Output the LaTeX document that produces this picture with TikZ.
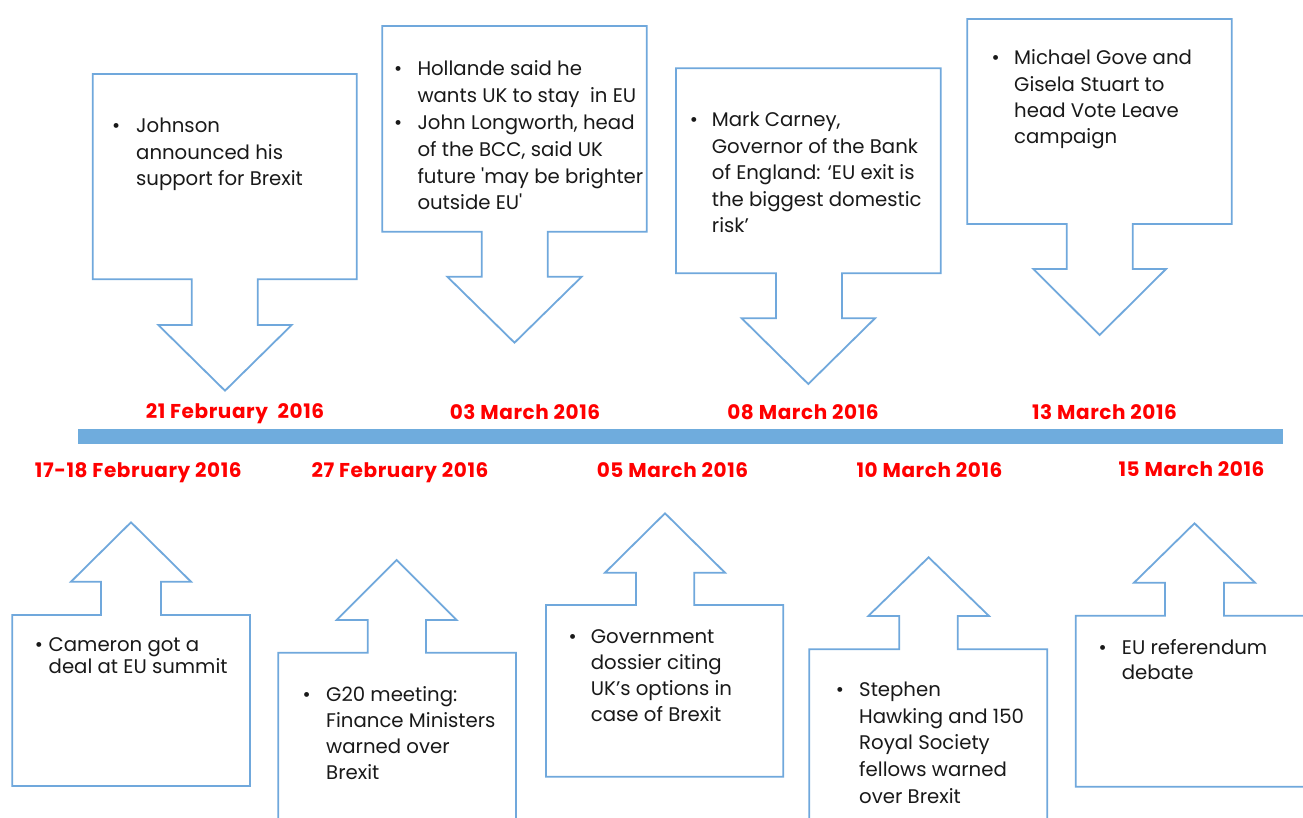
\documentclass[tikz,border=0pt]{standalone}
\usepackage{fontspec}
\setmainfont{Poppins}
\newfontfamily\datefont[LetterSpace=3]{Poppins}
\definecolor{calloutblue}{RGB}{112,168,220}
\definecolor{barblue}{RGB}{111,172,221}
\definecolor{textdark}{RGB}{25,25,25}
\newcommand{\boxlines}[1]{\begin{tabular}[t]{@{}l@{}}#1\end{tabular}}
\begin{document}
\begin{tikzpicture}[x=1pt,y=-1pt,
  callout/.style={draw=calloutblue, line width=1.8pt, fill=white, line join=miter},
  txt/.style={inner sep=0pt, anchor=base west, text=textdark, font=\fontsize{19.7}{#1}\selectfont},
  txt/.default=26.5,
  bul/.style={inner sep=0pt, anchor=base west, text=textdark, font=\fontsize{19.7}{26.5}\selectfont},
  datelbl/.style={inner sep=0pt, anchor=base, text=red, font=\datefont\fontsize{20}{22}\selectfont\bfseries}]
\useasboundingbox (0,0) rectangle (1303,818);
\clip (0,0) rectangle (1303,818);
\fill[white] (0,0) rectangle (1303,818);

% top callouts (pointing down)
\draw[callout] (92.7,74) -- (356.7,74) -- (356.7,279.3) -- (257.7,279.3) -- (257.7,325) -- (291.7,325) -- (225,390.7) -- (158.3,325) -- (191.7,325) -- (191.7,279.3) -- (92.7,279.3) -- cycle;
\draw[callout] (382.3,26) -- (646.7,26) -- (646.7,231.7) -- (547.7,231.7) -- (547.7,276.7) -- (581.7,276.7) -- (514.5,342.7) -- (447.3,276.7) -- (481.7,276.7) -- (481.7,231.7) -- (382.3,231.7) -- cycle;
\draw[callout] (676,68.3) -- (940.7,68.3) -- (940.7,273.3) -- (842,273.3) -- (842,318.3) -- (875,318.3) -- (808.3,384) -- (741.7,318.3) -- (776,318.3) -- (776,273.3) -- (676,273.3) -- cycle;
\draw[callout] (967.3,19) -- (1231.7,19) -- (1231.7,224) -- (1132.7,224) -- (1132.7,269) -- (1166,269) -- (1099.6,335) -- (1033.3,269) -- (1066.7,269) -- (1066.7,224) -- (967.3,224) -- cycle;

% bottom callouts (pointing up)
\draw[callout] (131,522.3) -- (191,581.7) -- (161,581.7) -- (161,615) -- (250,615) -- (250,786) -- (12.3,786) -- (12.3,615) -- (101,615) -- (101,581.7) -- (71,581.7) -- cycle;
\draw[callout] (396.7,560) -- (456.7,620) -- (426,620) -- (426,652.7) -- (516,652.7) -- (516,830) -- (278.3,830) -- (278.3,652.7) -- (367.7,652.7) -- (367.7,620) -- (336.7,620) -- cycle;
\draw[callout] (665,513.3) -- (725,572.7) -- (694.3,572.7) -- (694.3,605) -- (783.3,605) -- (783.3,776.7) -- (546,776.7) -- (546,605) -- (636,605) -- (636,572.7) -- (605,572.7) -- cycle;
\draw[callout] (928.6,557.3) -- (989,616) -- (957.7,616) -- (957.7,649.3) -- (1047.3,649.3) -- (1047.3,830) -- (809.3,830) -- (809.3,649.3) -- (899.3,649.3) -- (899.3,616) -- (868.3,616) -- cycle;
\draw[callout] (1194.5,523.3) -- (1255,582.7) -- (1224,582.7) -- (1224,615.7) -- (1314,615.7) -- (1314,786.7) -- (1075.7,786.7) -- (1075.7,615.7) -- (1165,615.7) -- (1165,582.7) -- (1134,582.7) -- cycle;

% timeline bar
\fill[barblue] (77.5,429.3) rectangle (1283,443.5);

% top texts
\node[bul] (b1) at (112,132.7) {\textbullet};
\node[txt] (t1) at (136,132.7) {\boxlines{Johnson\\announced his\\support for Brexit}};

\node[bul] (b2a) at (394,76) {\textbullet};
\node[bul] (b2b) at (394,130) {\textbullet};
\node[txt=26.8] (t2) at (417.3,76) {\boxlines{Hollande said he\\wants UK to stay~ in EU\\John Longworth, head\\of the BCC, said UK\\future \textquotesingle may be brighter\\outside EU\textquotesingle}};

\node[bul] (b3) at (689.7,126.7) {\textbullet};
\node[txt] (t3) at (711.7,126.7) {\boxlines{Mark Carney,\\Governor of the Bank\\of England: `EU exit is\\the biggest domestic\\risk'}};

\node[bul] (b4) at (991.3,65) {\textbullet};
\node[txt=26.1] (t4) at (1014,65) {\boxlines{Michael Gove and\\Gisela Stuart to\\head Vote Leave\\campaign}};

% bottom texts
\node[bul] (b5) at (34.7,651.7) {\textbullet};
\node[txt=21.7] (t5) at (48.5,651.7) {\boxlines{Cameron got a\\deal at EU summit}};

\node[bul] (b6) at (302.3,701.7) {\textbullet};
\node[txt=25.9] (t6) at (326,701.7) {\boxlines{G20 meeting:\\Finance Ministers\\warned over\\Brexit}};

\node[bul] (b7) at (568.3,643.3) {\textbullet};
\node[txt=25.9] (t7) at (590.7,643.3) {\boxlines{Government\\dossier citing\\UK's options in\\case of Brexit}};

\node[bul] (b8) at (835.7,696.7) {\textbullet};
\node[txt=26.6] (t8) at (859,696.7) {\boxlines{Stephen\\Hawking and 150\\Royal Society\\fellows warned\\over Brexit}};

\node[bul] (b9) at (1098.3,654.3) {\textbullet};
\node[txt=24.7] (t9) at (1121.7,654.3) {\boxlines{EU referendum\\debate}};

% dates
\node[datelbl] (d1) at (235,418.7) {21 February~ 2016};
\node[datelbl] (d2) at (525,419.5) {03 March 2016};
\node[datelbl] (d3) at (803,419) {08 March 2016};
\node[datelbl] (d4) at (1104.5,419.5) {13 March 2016};
\node[datelbl] (d5) at (138.3,477) {17-18 February 2016};
\node[datelbl] (d6) at (400,477) {27 February 2016};
\node[datelbl] (d7) at (672.5,477.5) {05 March 2016};
\node[datelbl] (d8) at (929.5,477.5) {10 March 2016};
\node[datelbl] (d9) at (1191.5,476) {15 March 2016};
\end{tikzpicture}
\end{document}
